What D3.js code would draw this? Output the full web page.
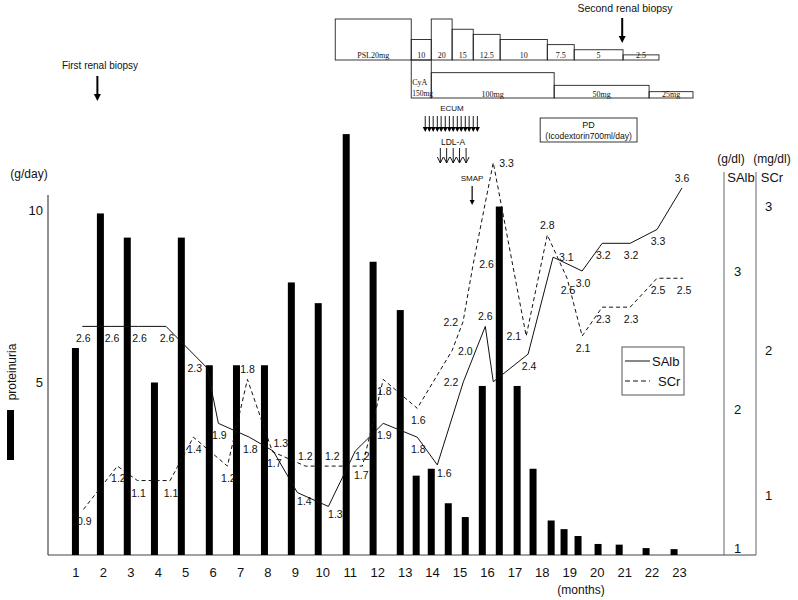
<!DOCTYPE html>
<html>
<head>
<meta charset="utf-8">
<script src="https://cdn.jsdelivr.net/npm/d3@7"></script>
<style>
  body { margin: 0; background: #fff; }
  text { font-family: "Liberation Sans", Arial, sans-serif; fill: #111; }
  .serif { font-family: "Liberation Serif", "Times New Roman", serif; }
</style>
</head>
<body>
<svg id="chart" width="798" height="600"></svg>
<script>
// ---- data ----
const months = [1, 2, 3, 4, 5, 6, 7, 8, 9, 10, 11, 12, 13, 14, 15, 16, 17, 18, 19, 20, 21, 22, 23];

// proteinuria bars (g/day), position in months
const barMonth = [1.0, 1.91, 2.89, 3.88, 4.86, 5.88, 6.87, 7.89, 8.87, 9.85, 10.87, 11.85, 12.84, 13.42,
  13.97, 14.59, 15.21, 15.83, 16.45, 17.10, 17.68, 18.34, 18.81, 19.32, 20.05, 20.82, 21.80, 22.82];
const proteinuria = [6.0, 9.9, 9.2, 5.0, 9.2, 5.5, 5.5, 5.5, 7.9, 7.3, 12.2, 8.5, 7.1, 2.3,
  2.5, 1.5, 1.1, 4.9, 10.1, 4.9, 2.5, 1.0, 0.75, 0.55, 0.32, 0.3, 0.2, 0.17];

// serum albumin (g/dl)
const salbMonth = [1.25, 2.3, 3.3, 4.3, 5.8, 6.21, 7.34, 8.21, 9.09, 10.22, 11.2, 12.22, 13.46, 14.19,
  15.14, 15.94, 16.23, 17.5, 18.41, 19.47, 20.2, 21.22, 22.2, 23.11];
const salb = [2.6, 2.6, 2.6, 2.6, 2.3, 1.9, 1.8, 1.7, 1.4, 1.3, 1.7, 1.9, 1.8, 1.6,
  2.2, 2.6, 2.2, 2.4, 3.1, 3.0, 3.2, 3.2, 3.3, 3.6];
// where each value label sits (see labelOffset), "" = no label
const salbSide = ["b", "b", "b", "b", "l", "b", "b", "b", "br", "br", "B", "b", "b", "br",
  "l", "a", "", "b", "r", "b", "b", "b", "b", "a"];

// serum creatinine (mg/dl)
const scrMonth = [1.29, 2.53, 3.26, 4.45, 5.30, 6.54, 7.27, 8.18, 9.38, 10.36, 11.46, 12.22, 13.46,
  14.73, 15.13, 15.50, 16.23, 17.43, 18.20, 18.92, 19.47, 20.20, 21.22, 22.20, 23.15];
const scr = [0.9, 1.2, 1.1, 1.1, 1.4, 1.2, 1.8, 1.3, 1.2, 1.2, 1.2, 1.8, 1.6,
  2.0, 2.2, 2.6, 3.3, 2.1, 2.8, 2.5, 2.1, 2.3, 2.3, 2.5, 2.5];
const scrSide = ["b", "b", "b", "b", "b", "b", "a", "R", "a", "a", "a", "b", "b",
  "r", "l", "r", "r", "l", "a", "b", "b", "b", "b", "b", "b"];

// treatment timeline
const pslEdges = [10.47, 13.24, 13.97, 14.73, 15.50, 16.48, 18.20, 19.18, 20.96, 22.27];
const pslDose = [20, 10, 20, 15, 12.5, 10, 7.5, 5, 2.5];
const pslText = ["PSL20mg", "10", "20", "15", "12.5", "10", "7.5", "5", "2.5"];
const cyaEdges = [13.24, 13.97, 18.45, 21.91, 23.51];
const cyaDose = [150, 100, 50, 25];
const cyaText = ["150mg", "100mg", "50mg", "25mg"];
const ecumDays = [13.75, 13.9, 14.04, 14.19, 14.33, 14.48, 14.63, 14.77, 14.92, 15.06, 15.21, 15.35, 15.5, 15.65];
const ldlDays = [14.30, 14.53, 14.77, 15.0, 15.24];
const smapDay = 15.46;
const biopsy = [1.8, 20.93];
const pdSpan = [17.94, 21.47];

// ---- scales ----
const svg = d3.select("#chart");
const x = d3.scaleLinear().domain([0, 23]).range([48, 679]);
const yP = d3.scaleLinear().domain([0, 10]).range([555, 210]);
const yAlb = d3.scaleLinear().domain([1, 3]).range([548, 271]);
const yCr = d3.scaleLinear().domain([1, 3]).range([495, 206]);
const yPsl = d3.scaleLinear().domain([0, 20]).range([60, 19]);
const yCya = d3.scaleLinear().domain([0, 150]).range([98, 60]);

// label placement: [dx, dy, anchor]
const labelOffset = {
  b: [1, 16, "middle"], a: [0, -6, "middle"], l: [-5, 4, "end"], r: [6, 4, "start"],
  R: [1, -5, "start"], br: [7, 12, "middle"], B: [6, 28, "middle"]
};

// ---- axes frame ----
svg.append("line").attr("x1", 48).attr("x2", 48).attr("y1", 195).attr("y2", 555)
  .attr("stroke", "#222");
svg.append("line").attr("x1", 48).attr("x2", 756).attr("y1", 555).attr("y2", 555)
  .attr("stroke", "#444");
[724, 756].forEach(px => {
  svg.append("line").attr("x1", px).attr("x2", px).attr("y1", 172).attr("y2", 555)
    .attr("stroke", "#666");
});

function cleanAxis(g, size) {
  g.select(".domain").remove();
  g.selectAll("text").attr("font-size", size).attr("font-family", '"Liberation Sans", Arial, sans-serif').attr("fill", "#111");
}

svg.append("g").attr("transform", "translate(48,0)")
  .call(d3.axisLeft(yP).tickValues([5, 10]).tickSize(0).tickPadding(5))
  .call(g => cleanAxis(g, 13));

svg.append("g").attr("transform", "translate(0,555)")
  .call(d3.axisBottom(x).tickValues(months).tickSize(0).tickPadding(13))
  .call(g => cleanAxis(g, 13));

svg.append("g").attr("transform", "translate(724,0)")
  .call(d3.axisRight(yAlb).tickValues([1, 2, 3]).tickFormat(d3.format("d")).tickSize(0).tickPadding(10))
  .call(g => cleanAxis(g, 13));

svg.append("g").attr("transform", "translate(756,0)")
  .call(d3.axisRight(yCr).tickValues([1, 2, 3]).tickFormat(d3.format("d")).tickSize(0).tickPadding(9))
  .call(g => cleanAxis(g, 13));

// axis titles
svg.append("text").attr("x", 29).attr("y", 178).attr("text-anchor", "middle").attr("font-size", 12).text("(g/day)");
svg.append("text").attr("transform", "translate(16,372) rotate(-90)").attr("text-anchor", "middle")
  .attr("font-size", 12).text("proteinuria");
svg.append("rect").attr("x", 7).attr("y", 410).attr("width", 7).attr("height", 50).attr("fill", "#000");
svg.append("text").attr("x", 581).attr("y", 594).attr("text-anchor", "middle").attr("font-size", 12).text("(months)");
svg.append("text").attr("x", 731).attr("y", 163).attr("text-anchor", "middle").attr("font-size", 12).text("(g/dl)");
svg.append("text").attr("x", 772).attr("y", 163).attr("text-anchor", "middle").attr("font-size", 12).text("(mg/dl)");
svg.append("text").attr("x", 741).attr("y", 182).attr("text-anchor", "middle").attr("font-size", 13).text("SAlb");
svg.append("text").attr("x", 772).attr("y", 182).attr("text-anchor", "middle").attr("font-size", 13).text("SCr");

// ---- bars ----
svg.append("g").selectAll("rect")
  .data(barMonth.map((m, i) => ({ m, v: proteinuria[i] })))
  .join("rect")
  .attr("x", d => x(d.m) - 3.5)
  .attr("width", 7)
  .attr("y", d => yP(d.v))
  .attr("height", d => yP(0) - yP(d.v))
  .attr("fill", "#000");

// ---- lines ----
const albData = salbMonth.map((m, i) => ({ m, v: salb[i], side: salbSide[i] }));
const crData = scrMonth.map((m, i) => ({ m, v: scr[i], side: scrSide[i] }));

svg.append("path").datum(albData)
  .attr("d", d3.line().x(d => x(d.m)).y(d => yAlb(d.v)))
  .attr("fill", "none").attr("stroke", "#111").attr("stroke-width", 1);

svg.append("path").datum(crData)
  .attr("d", d3.line().x(d => x(d.m)).y(d => yCr(d.v)))
  .attr("fill", "none").attr("stroke", "#111").attr("stroke-width", 1)
  .attr("stroke-dasharray", "4,3");

function addLabels(data, yScale) {
  svg.append("g").selectAll("text")
    .data(data.filter(d => d.side))
    .join("text")
    .attr("font-size", 10.5)
    .attr("x", d => x(d.m) + labelOffset[d.side][0])
    .attr("y", d => yScale(d.v) + labelOffset[d.side][1])
    .attr("text-anchor", d => labelOffset[d.side][2])
    .text(d => d3.format(".1f")(d.v));
}
addLabels(albData, yAlb);
addLabels(crData, yCr);

// ---- legend ----
const lg = svg.append("g");
lg.append("rect").attr("x", 622).attr("y", 347).attr("width", 62).attr("height", 48)
  .attr("fill", "#fff").attr("stroke", "#555");
lg.append("line").attr("x1", 625).attr("x2", 650).attr("y1", 361).attr("y2", 361).attr("stroke", "#111");
lg.append("line").attr("x1", 625).attr("x2", 650).attr("y1", 381).attr("y2", 381).attr("stroke", "#111")
  .attr("stroke-dasharray", "5,3");
lg.append("text").attr("x", 652).attr("y", 366).attr("font-size", 13).text("SAlb");
lg.append("text").attr("x", 658).attr("y", 386).attr("font-size", 13).text("SCr");

// ---- treatment timeline ----
const tl = svg.append("g");
pslDose.forEach((d, i) => {
  const x0 = x(pslEdges[i]), x1 = x(pslEdges[i + 1]);
  tl.append("rect").attr("x", x0).attr("y", yPsl(d)).attr("width", x1 - x0).attr("height", yPsl(0) - yPsl(d))
    .attr("fill", "none").attr("stroke", "#222").attr("stroke-width", 0.9);
  tl.append("text").attr("class", "serif").attr("x", (x0 + x1) / 2).attr("y", 58)
    .attr("text-anchor", "middle").attr("font-size", 8).text(pslText[i]);
});
cyaDose.forEach((d, i) => {
  const x0 = x(cyaEdges[i]), x1 = x(cyaEdges[i + 1]);
  tl.append("rect").attr("x", x0).attr("y", yCya(d)).attr("width", x1 - x0).attr("height", yCya(0) - yCya(d))
    .attr("fill", "none").attr("stroke", "#222").attr("stroke-width", 0.9);
  if (i === 0) {
    tl.append("text").attr("class", "serif").attr("x", x0 + 1).attr("y", 85).attr("font-size", 8).text("CyA");
    tl.append("text").attr("class", "serif").attr("x", x0 + 1).attr("y", 96).attr("font-size", 7.5).text(cyaText[i]);
  } else {
    tl.append("text").attr("class", "serif").attr("x", (x0 + x1) / 2).attr("y", 97)
      .attr("text-anchor", "middle").attr("font-size", 8).text(cyaText[i]);
  }
});

// arrows
function solidArrow(px, y0, y1, w, head) {
  tl.append("line").attr("x1", px).attr("x2", px).attr("y1", y0).attr("y2", y1 - head + 1)
    .attr("stroke", "#000").attr("stroke-width", w);
  tl.append("path").attr("d", `M${px - head / 2},${y1 - head}L${px + head / 2},${y1 - head}L${px},${y1}Z`)
    .attr("fill", "#000");
}
solidArrow(x(biopsy[0]), 76, 101, 2, 7);
solidArrow(x(biopsy[1]), 18, 43, 2, 7);
tl.append("text").attr("x", 100).attr("y", 69).attr("text-anchor", "middle").attr("font-size", 10).text("First renal biopsy");
tl.append("text").attr("x", 625).attr("y", 12).attr("text-anchor", "middle").attr("font-size", 10.5).text("Second renal biopsy");

tl.append("text").attr("x", 452).attr("y", 111).attr("text-anchor", "middle").attr("font-size", 8).text("ECUM");
ecumDays.forEach(d => solidArrow(x(d), 116, 132, 0.9, 5));

tl.append("text").attr("x", 453).attr("y", 145).attr("text-anchor", "middle").attr("font-size", 8.5).text("LDL-A");
ldlDays.forEach(d => {
  const px = x(d);
  tl.append("line").attr("x1", px).attr("x2", px).attr("y1", 148).attr("y2", 163).attr("stroke", "#000").attr("stroke-width", 0.9);
  tl.append("path").attr("d", `M${px - 3},${157}L${px},${163}L${px + 3},${157}`)
    .attr("fill", "none").attr("stroke", "#000").attr("stroke-width", 0.9);
});

tl.append("text").attr("x", 472).attr("y", 181).attr("text-anchor", "middle").attr("font-size", 8).text("SMAP");
solidArrow(x(smapDay), 186, 205, 1.2, 5);

const pdX0 = x(pdSpan[0]), pdX1 = x(pdSpan[1]);
tl.append("rect").attr("x", pdX0).attr("y", 118).attr("width", pdX1 - pdX0).attr("height", 24)
  .attr("fill", "none").attr("stroke", "#222").attr("stroke-width", 0.9);
tl.append("text").attr("x", (pdX0 + pdX1) / 2).attr("y", 128).attr("text-anchor", "middle").attr("font-size", 9).text("PD");
tl.append("text").attr("x", (pdX0 + pdX1) / 2).attr("y", 139).attr("text-anchor", "middle").attr("font-size", 8.5).text("(Icodextorin700ml/day)");
</script>
</body>
</html>
